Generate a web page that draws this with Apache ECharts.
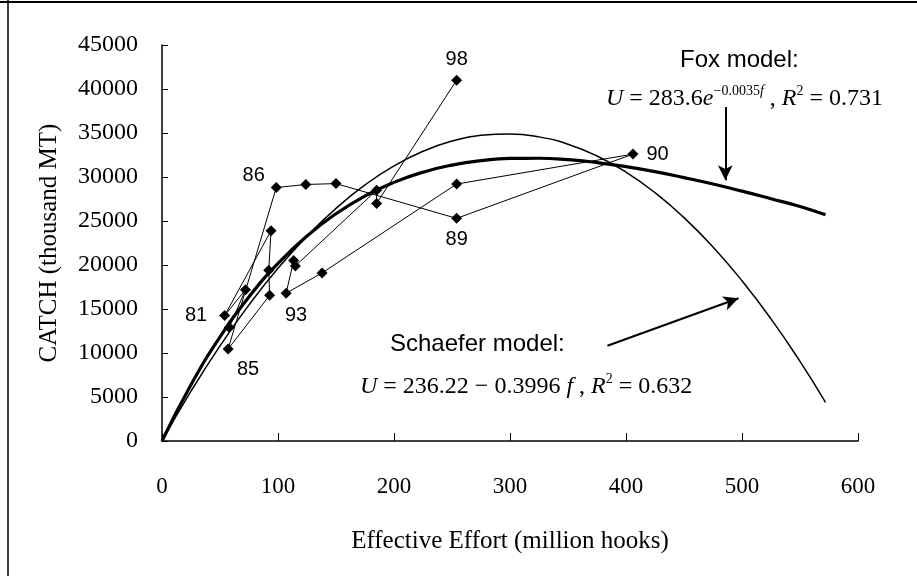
<!DOCTYPE html>
<html>
<head>
<meta charset="utf-8">
<script src="https://cdn.jsdelivr.net/npm/echarts@6/dist/echarts.min.js"></script>
<style>
html,body{margin:0;padding:0;background:#fff;}
#chart{width:917px;height:576px;}
</style>
</head>
<body>
<div id="chart"></div>
<script>
// observed effort / catch, in year order
var effort = [58, 72, 54, 94, 92, 92.8, 57, 98.5, 124, 150, 254, 406, 254, 138, 107, 113.5, 115, 185, 185, 254];
var catchObs = [12900, 17200, 14250, 23900, 19400, 16550, 10450, 28800, 29150, 29250, 25300, 32600, 29200, 19100, 16800, 20500, 19900, 28500, 27000, 41000];
var pointLabels = ['', '', '81', '', '', '', '85', '86', '', '', '89', '90', '', '', '93', '', '', '', '', '98'];

// model curves
var curveEffort = [0, 25, 50, 75, 100, 125, 150, 175, 200, 225, 250, 275, 300, 325, 350, 375, 400, 425, 450, 475, 500, 525, 550, 572];
var schaeferCatch = [0, 5660, 10810, 15470, 19630, 23280, 26440, 29100, 31260, 32920, 34080, 34740, 34900, 34560, 33730, 32390, 30550, 28220, 25380, 22050, 18210, 13880, 9040, 4400];
var foxCatch = [0, 6400, 11820, 16380, 20180, 23300, 25830, 27840, 29390, 30550, 31350, 31860, 32110, 32130, 31970, 31640, 31180, 30610, 29930, 29200, 28390, 27530, 26650, 25700];

var xTicks = [0, 600, 100];
var yTicks = [0, 45000, 5000];

var labelPos = {
    '81': {position: 'left', distance: 12},
    '85': {position: 'bottom', offset: [20, 0]},
    '86': {position: 'left', offset: [2, -12], distance: 8},
    '89': {position: 'bottom', distance: 6},
    '90': {position: 'right', distance: 8},
    '93': {position: 'bottom', offset: [10, 2]},
    '98': {position: 'top', distance: 5}
};

var obsData = effort.map(function (e, i) {
    var item = {value: [e, catchObs[i]]};
    var t = pointLabels[i];
    if (t) {
        var p = labelPos[t];
        item.label = {
            show: true,
            formatter: t,
            position: p.position,
            distance: p.distance || 5,
            offset: p.offset || [0, 0],
            color: '#000',
            fontFamily: 'Liberation Sans',
            fontSize: 20
        };
    }
    return item;
});

var serif = 'Liberation Serif';
var eqRich = {
    i: {fontFamily: serif, fontStyle: 'italic', fontSize: 24, color: '#000'},
    s: {fontFamily: serif, fontSize: 14, color: '#000', verticalAlign: 'top', lineHeight: 30},
    si: {fontFamily: serif, fontStyle: 'italic', fontSize: 14, color: '#000', verticalAlign: 'top', lineHeight: 30}
};

var chart = echarts.init(document.getElementById('chart'));
var option = {
    backgroundColor: '#fff',
    animation: false,
    grid: {left: 162, right: 59, top: 45, bottom: 135},
    xAxis: {
        type: 'value',
        min: xTicks[0],
        max: xTicks[1],
        interval: xTicks[2],
        name: 'Effective Effort (million hooks)',
        nameLocation: 'middle',
        nameGap: 88,
        nameTextStyle: {fontFamily: serif, fontSize: 25, color: '#000'},
        axisLine: {lineStyle: {color: '#000', width: 1.5}},
        axisTick: {inside: true, length: 8, lineStyle: {color: '#000'}},
        axisLabel: {fontFamily: serif, fontSize: 23, color: '#000', margin: 34},
        splitLine: {show: false}
    },
    yAxis: {
        type: 'value',
        min: yTicks[0],
        max: yTicks[1],
        interval: yTicks[2],
        name: 'CATCH (thousand MT)',
        nameLocation: 'middle',
        nameRotate: 90,
        nameGap: 100,
        nameTextStyle: {fontFamily: serif, fontSize: 25, color: '#000'},
        axisLine: {show: true, lineStyle: {color: '#000', width: 1.5}},
        axisTick: {show: true, inside: true, length: 6, lineStyle: {color: '#000'}},
        axisLabel: {
            fontFamily: serif, fontSize: 24, color: '#000', margin: 24,
            formatter: function (v) { return String(v); }
        },
        splitLine: {show: false}
    },
    series: [{
        name: 'Schaefer',
        type: 'line',
        smooth: true,
        showSymbol: false,
        data: curveEffort.map(function (e, i) { return [e, schaeferCatch[i]]; }),
        lineStyle: {color: '#000', width: 1.5},
        z: 2,
        markLine: {
            silent: true,
            symbol: ['none', 'arrow'],
            symbolSize: [11, 15],
            label: {show: false},
            lineStyle: {color: '#000', width: 2, type: 'solid'},
            data: [
                [{coord: [384, 10830]}, {coord: [497, 16220]}],
                [{coord: [485.6, 37950]}, {coord: [485.6, 29620]}]
            ]
        }
    }, {
        name: 'Fox',
        type: 'line',
        smooth: true,
        showSymbol: false,
        data: curveEffort.map(function (e, i) { return [e, foxCatch[i]]; }),
        lineStyle: {color: '#000', width: 3.2},
        z: 3
    }, {
        name: 'Observed',
        type: 'line',
        symbol: 'diamond',
        symbolSize: 11,
        data: obsData,
        itemStyle: {color: '#000'},
        lineStyle: {color: '#000', width: 1},
        z: 4
    }],
    graphic: [
        {type: 'line', shape: {x1: 0, y1: 2, x2: 917, y2: 2}, style: {stroke: '#000', lineWidth: 2}},
        {type: 'line', shape: {x1: 8, y1: 0, x2: 8, y2: 576}, style: {stroke: '#000', lineWidth: 1.5}},
        {type: 'text', left: 680, top: 48, style: {text: 'Fox model:', fontFamily: 'Liberation Sans', fontSize: 24, fill: '#000'}},
        {type: 'text', left: 606, top: 84, style: {
            text: '{i|U} = 283.6{i|e}{s|−0.0035}{si|f} , {i|R}{s|2} = 0.731',
            fontFamily: serif, fontSize: 24, fill: '#000', lineHeight: 30, rich: eqRich
        }},
        {type: 'text', left: 390, top: 332, style: {text: 'Schaefer model:', fontFamily: 'Liberation Sans', fontSize: 24, fill: '#000'}},
        {type: 'text', left: 360, top: 372, style: {
            text: '{i|U} = 236.22 − 0.3996 {i|f} , {i|R}{s|2} = 0.632',
            fontFamily: serif, fontSize: 24, fill: '#000', lineHeight: 30, rich: eqRich
        }}
    ]
};
chart.setOption(option);
</script>
</body>
</html>
